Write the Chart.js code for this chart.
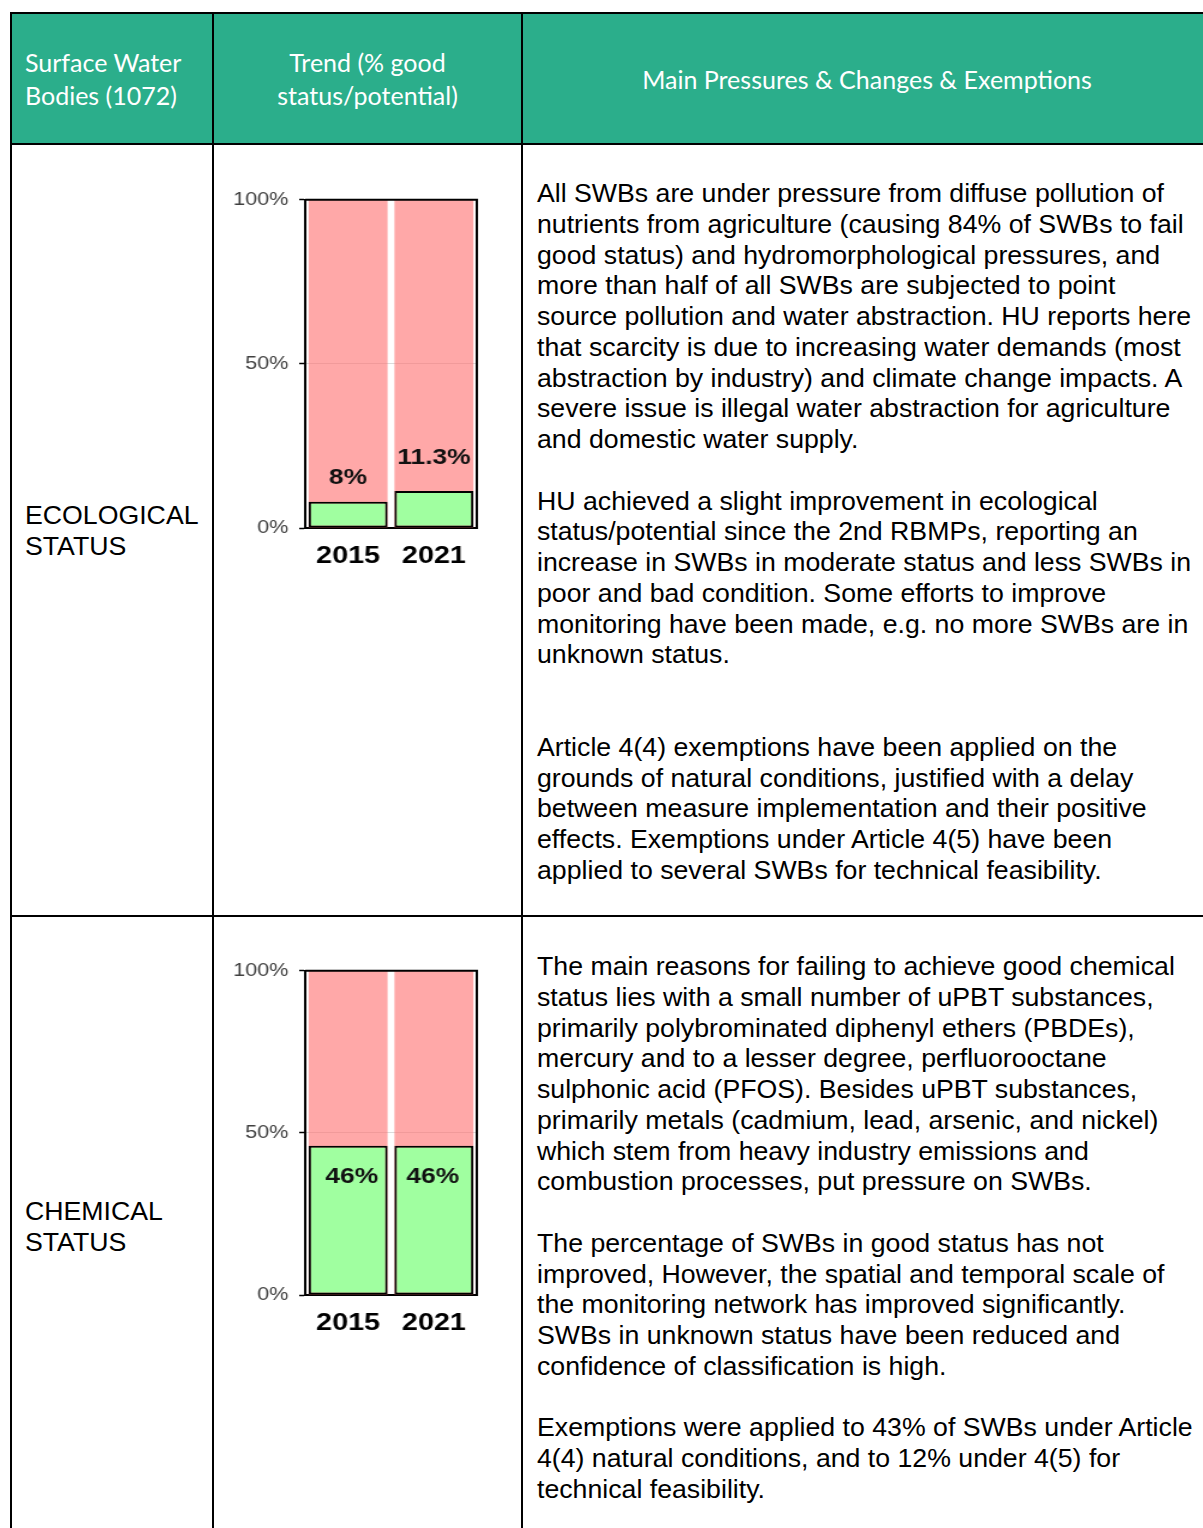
<!DOCTYPE html>
<html>
<head>
<meta charset="utf-8">
<script src="https://cdn.jsdelivr.net/npm/chart.js@4"></script>
<style>
  html, body { margin: 0; padding: 0; background: #fff; }
  #page { position: relative; width: 1203px; height: 1528px; overflow: hidden; }
  .ln { position: absolute; background: #000; }
  .hdr { position: absolute; background: #2bae8b; }
  .htxt { position: absolute; color: #fff; font-family: Lato, "Open Sans", sans-serif; font-size: 25px; line-height: 33px; white-space: pre; }
  .txt { position: absolute; color: #000; font-family: "Liberation Sans", Arial, sans-serif; font-size: 26.7px; line-height: 30.77px; white-space: pre; }
  canvas { position: absolute; }
</style>
</head>
<body>
<div id="page">
  <div class="hdr" style="left:12px;top:14px;width:1200px;height:129px"></div>

  <div class="ln" style="left:10px;top:12px;width:1200px;height:2px"></div>
  <div class="ln" style="left:10px;top:143px;width:1200px;height:2px"></div>
  <div class="ln" style="left:10px;top:915px;width:1200px;height:2px"></div>
  <div class="ln" style="left:10px;top:12px;width:2px;height:1516px"></div>
  <div class="ln" style="left:212px;top:12px;width:2px;height:1516px"></div>
  <div class="ln" style="left:521px;top:12px;width:2px;height:1516px"></div>

  <div class="htxt" style="left:25px;top:46px">Surface Water
Bodies (1072)</div>
  <div class="htxt" style="left:214px;top:46px;width:307px;text-align:center">Trend (% good
status/potential)</div>
  <div class="htxt" style="left:523px;top:63px;width:688px;text-align:center">Main Pressures &amp; Changes &amp; Exemptions</div>

  <div class="txt" style="left:25px;top:500px">ECOLOGICAL
STATUS</div>
  <div class="txt" style="left:25px;top:1196px">CHEMICAL
STATUS</div>

  <div class="txt" style="left:537px;top:178px">All SWBs are under pressure from diffuse pollution of
nutrients from agriculture (causing 84% of SWBs to fail
good status) and hydromorphological pressures, and
more than half of all SWBs are subjected to point
source pollution and water abstraction. HU reports here
that scarcity is due to increasing water demands (most
abstraction by industry) and climate change impacts. A
severe issue is illegal water abstraction for agriculture
and domestic water supply.

HU achieved a slight improvement in ecological
status/potential since the 2nd RBMPs, reporting an
increase in SWBs in moderate status and less SWBs in
poor and bad condition. Some efforts to improve
monitoring have been made, e.g. no more SWBs are in
unknown status.


Article 4(4) exemptions have been applied on the
grounds of natural conditions, justified with a delay
between measure implementation and their positive
effects. Exemptions under Article 4(5) have been
applied to several SWBs for technical feasibility.</div>

  <div class="txt" style="left:537px;top:951px">The main reasons for failing to achieve good chemical
status lies with a small number of uPBT substances,
primarily polybrominated diphenyl ethers (PBDEs),
mercury and to a lesser degree, perfluorooctane
sulphonic acid (PFOS). Besides uPBT substances,
primarily metals (cadmium, lead, arsenic, and nickel)
which stem from heavy industry emissions and
combustion processes, put pressure on SWBs.

The percentage of SWBs in good status has not
improved, However, the spatial and temporal scale of
the monitoring network has improved significantly.
SWBs in unknown status have been reduced and
confidence of classification is high.

Exemptions were applied to 43% of SWBs under Article
4(4) natural conditions, and to 12% under 4(5) for
technical feasibility.</div>

  <!-- charts are drawn narrower and stretched by css, like the original picture -->
  <canvas id="ecoChart" width="225" height="395" style="left:220px;top:180px;width:270px;height:395px"></canvas>
  <canvas id="chemChart" width="225" height="391" style="left:220px;top:951px;width:270px;height:391px"></canvas>
</div>

<script>
// data
const years = ['2015', '2021'];
const ecoGood = [8, 11.3];
const ecoLabels = ['8%', '11.3%'];
const chemGood = [46, 46];
const chemLabels = ['46%', '46%'];
const fullScale = [100, 100];
const yTicks = [0, 50, 100];

const GREEN = '#a0ffa0';
const PINK = 'rgba(255, 110, 110, 0.6)';

// value labels over / inside the green bars
const barLabels = {
  id: 'barLabels',
  afterDatasetsDraw(chart, args, opts) {
    const meta = chart.getDatasetMeta(0);
    const ctx = chart.ctx;
    ctx.save();
    ctx.font = 'bold 22px "Liberation Sans", Arial, sans-serif';
    ctx.fillStyle = '#111';
    ctx.textAlign = 'center';
    ctx.textBaseline = 'middle';
    meta.data.forEach((bar, i) => {
      const dx = opts.shiftX ? opts.shiftX[i] : 0;
      ctx.fillText(opts.texts[i], bar.x + dx, bar.y + opts.offset[i]);
    });
    ctx.restore();
  }
};

// top and right edges of the plot box
const plotFrame = {
  id: 'plotFrame',
  afterDatasetsDraw(chart) {
    const { left, right, top, bottom } = chart.chartArea;
    const ctx = chart.ctx;
    ctx.save();
    ctx.strokeStyle = '#000';
    ctx.lineWidth = 2;
    ctx.beginPath();
    ctx.moveTo(left, top);
    ctx.lineTo(right, top);
    ctx.lineTo(right, bottom);
    ctx.stroke();
    ctx.restore();
  }
};

function makeChart(id, goodValues, labelOpts) {
  const ctx = document.getElementById(id).getContext('2d');
  return new Chart(ctx, {
    type: 'bar',
    data: {
      labels: years,
      datasets: [
        {
          data: goodValues,
          backgroundColor: GREEN,
          borderColor: '#000',
          borderWidth: 2,
          borderSkipped: false,
          grouped: false,
          order: 0,
          barPercentage: 0.92,
          categoryPercentage: 1
        },
        {
          data: fullScale,
          backgroundColor: PINK,
          borderWidth: 0,
          grouped: false,
          order: 1,
          barPercentage: 0.92,
          categoryPercentage: 1
        }
      ]
    },
    options: {
      responsive: false,
      animation: false,
      devicePixelRatio: 1,
      layout: { padding: { top: 15, right: 11, left: 0, bottom: 0 } },
      plugins: {
        legend: { display: false },
        tooltip: { enabled: false },
        barLabels: labelOpts
      },
      scales: {
        x: {
          grid: { color: 'rgba(0,0,0,0)', drawTicks: false },
          border: { display: true, color: '#000', width: 2 },
          ticks: {
            color: '#000',
            padding: 14,
            font: { family: '"Liberation Sans", Arial, sans-serif', size: 24, weight: 'bold' }
          },
          afterFit(scale) { scale.height = 47; }
        },
        y: {
          min: 0,
          max: 100,
          afterBuildTicks(scale) { scale.ticks = yTicks.map(v => ({ value: v })); },
          grid: {
            color: c => (c.tick && c.tick.value === 50 ? 'rgba(0,0,0,0.14)' : 'rgba(0,0,0,0)'),
            tickColor: '#000',
            tickLength: 5,
            tickWidth: 1.5
          },
          border: { color: '#000', width: 2 },
          ticks: {
            color: '#404040',
            padding: 9,
            font: { family: '"Liberation Sans", Arial, sans-serif', size: 18 },
            callback: v => v + '%'
          },
          afterFit(scale) { scale.width = 71; }
        }
      }
    },
    plugins: [barLabels, plotFrame]
  });
}

makeChart('ecoChart', ecoGood, { texts: ecoLabels, offset: [-24, -33] });
makeChart('chemChart', chemGood, { texts: chemLabels, offset: [31, 31], shiftX: [3, -1] });
</script>
</body>
</html>
